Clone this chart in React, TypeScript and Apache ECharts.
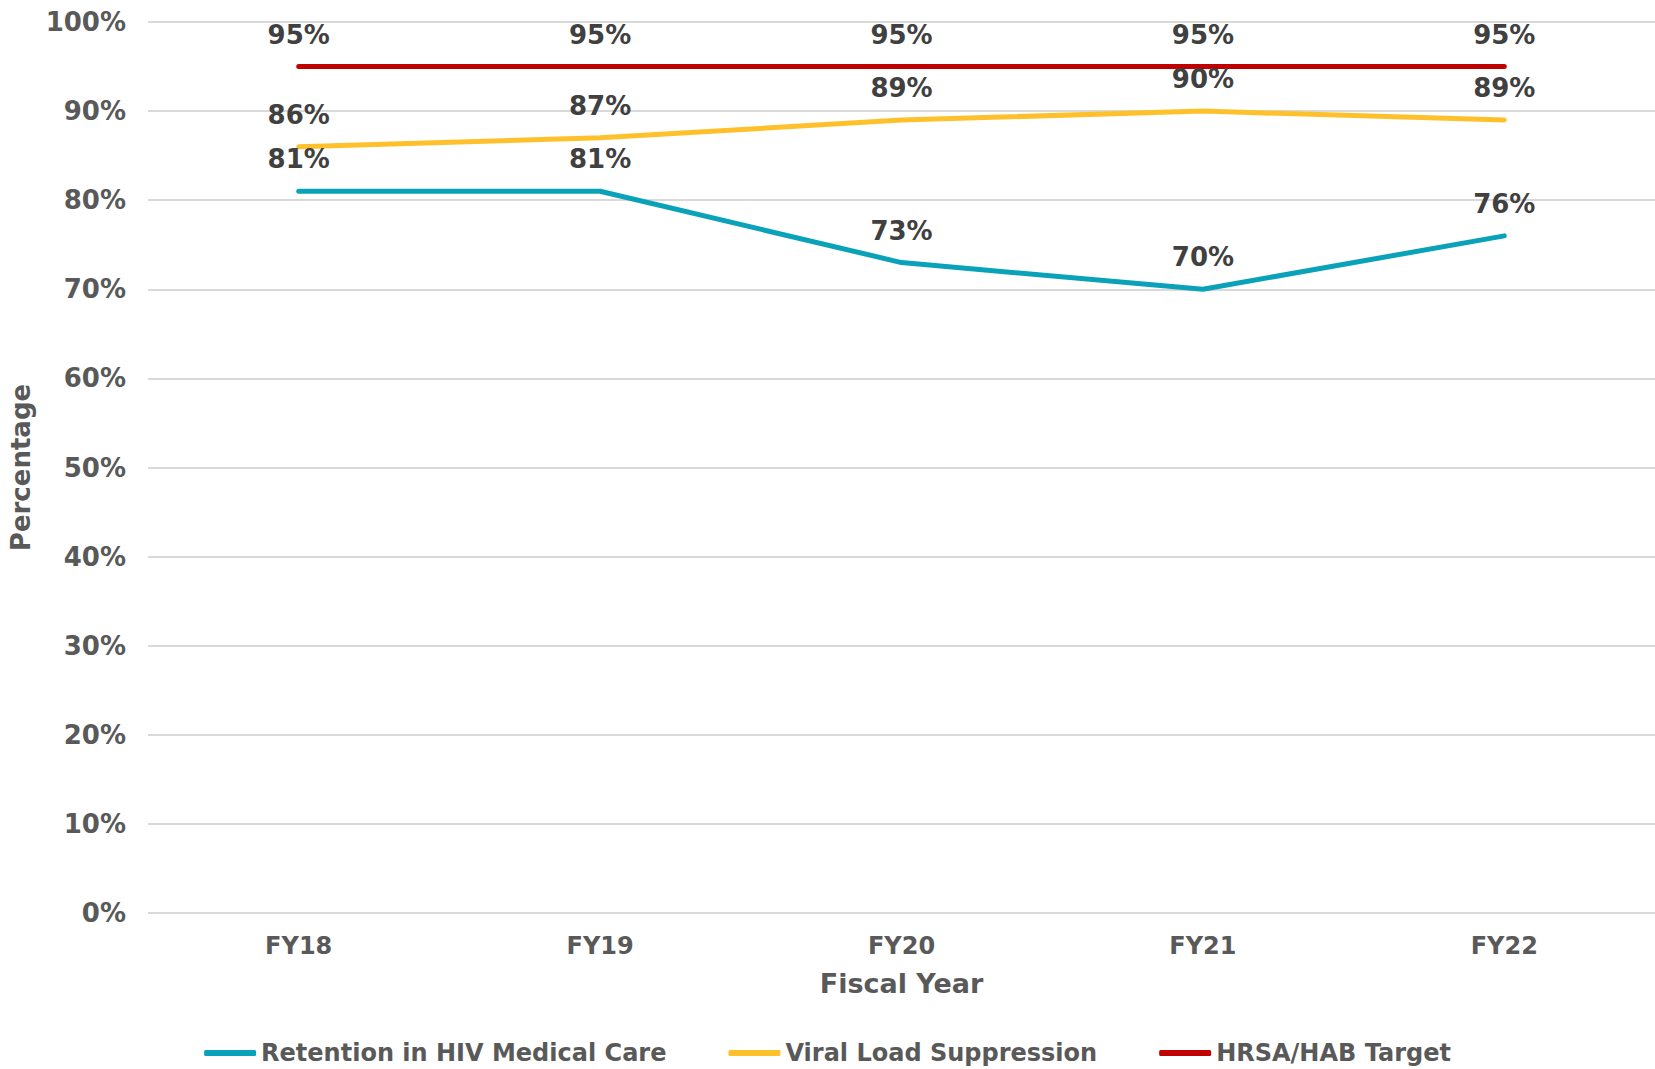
import React, { useEffect, useRef } from "react";
import * as echarts from "echarts";

const categories = ["FY18", "FY19", "FY20", "FY21", "FY22"];
const retention = [81, 81, 73, 70, 76];
const viralLoad = [86, 87, 89, 90, 89];
const target = [95, 95, 95, 95, 95];
const seriesNames = ["Retention in HIV Medical Care", "Viral Load Suppression", "HRSA/HAB Target"];
const seriesColors = ["#0AA2B8", "#FFC12B", "#C00000"];

const FONT = "'DejaVu Sans', Verdana, sans-serif";

export default function App() {
  const ref = useRef<HTMLDivElement>(null);
  useEffect(() => {
    if (!ref.current) return;
    const chart = echarts.init(ref.current, null, { renderer: "svg" });
    const mk = (name: string, data: number[], color: string) => ({
      name,
      type: "line",
      data,
      symbol: "circle",
      symbolSize: 0.1,
      showSymbol: true,
      lineStyle: { color, width: 5, cap: "round" },
      itemStyle: { color },
      labelLayout: { hideOverlap: false },
      label: {
        show: true,
        position: "top",
        distance: 19,
        formatter: "{c}%",
        color: "#404040",
        fontFamily: FONT,
        fontWeight: "bold",
        fontSize: 26,
      },
    });
    chart.setOption({
      animation: false,
      backgroundColor: "#ffffff",
      grid: { left: 148, right: 0, top: 22, bottom: 1069 - 913, containLabel: false },
      legend: {
        top: 1041,
        left: "center",
        padding: 0,
        itemWidth: 52,
        itemHeight: 6,
        itemGap: 62,
        data: seriesNames.map((n) => ({ name: n, icon: "roundRect" })),
        textStyle: {
          color: "#595959",
          fontFamily: FONT,
          fontWeight: "bold",
          fontSize: 24,
          lineHeight: 24,
        },
      },
      xAxis: {
        type: "category",
        data: categories,
        boundaryGap: true,
        axisLine: { show: false },
        axisTick: { show: false },
        axisLabel: { color: "#595959", fontFamily: FONT, fontWeight: "bold", fontSize: 24, margin: 21 },
        name: "Fiscal Year",
        nameLocation: "middle",
        nameGap: 57,
        nameTextStyle: { color: "#595959", fontFamily: FONT, fontWeight: "bold", fontSize: 27, verticalAlign: "top" },
      },
      yAxis: {
        type: "value",
        min: 0,
        max: 100,
        interval: 10,
        axisLine: { show: false },
        axisTick: { show: false },
        splitLine: { lineStyle: { color: "#D9D9D9", width: 2 } },
        axisLabel: {
          color: "#595959",
          fontFamily: FONT,
          fontWeight: "bold",
          fontSize: 26,
          margin: 22,
          formatter: "{value}%",
        },
        name: "Percentage",
        nameLocation: "middle",
        nameGap: 114,
        nameRotate: 90,
        nameTextStyle: { color: "#595959", fontFamily: FONT, fontWeight: "bold", fontSize: 26 },
      },
      series: [
        mk(seriesNames[0], retention, seriesColors[0]),
        mk(seriesNames[1], viralLoad, seriesColors[1]),
        mk(seriesNames[2], target, seriesColors[2]),
      ],
    });
    return () => chart.dispose();
  }, []);
  return (
    <div
      ref={ref}
      style={{ position: "fixed", left: 0, top: 0, width: 1655, height: 1069, background: "#fff" }}
    />
  );
}
